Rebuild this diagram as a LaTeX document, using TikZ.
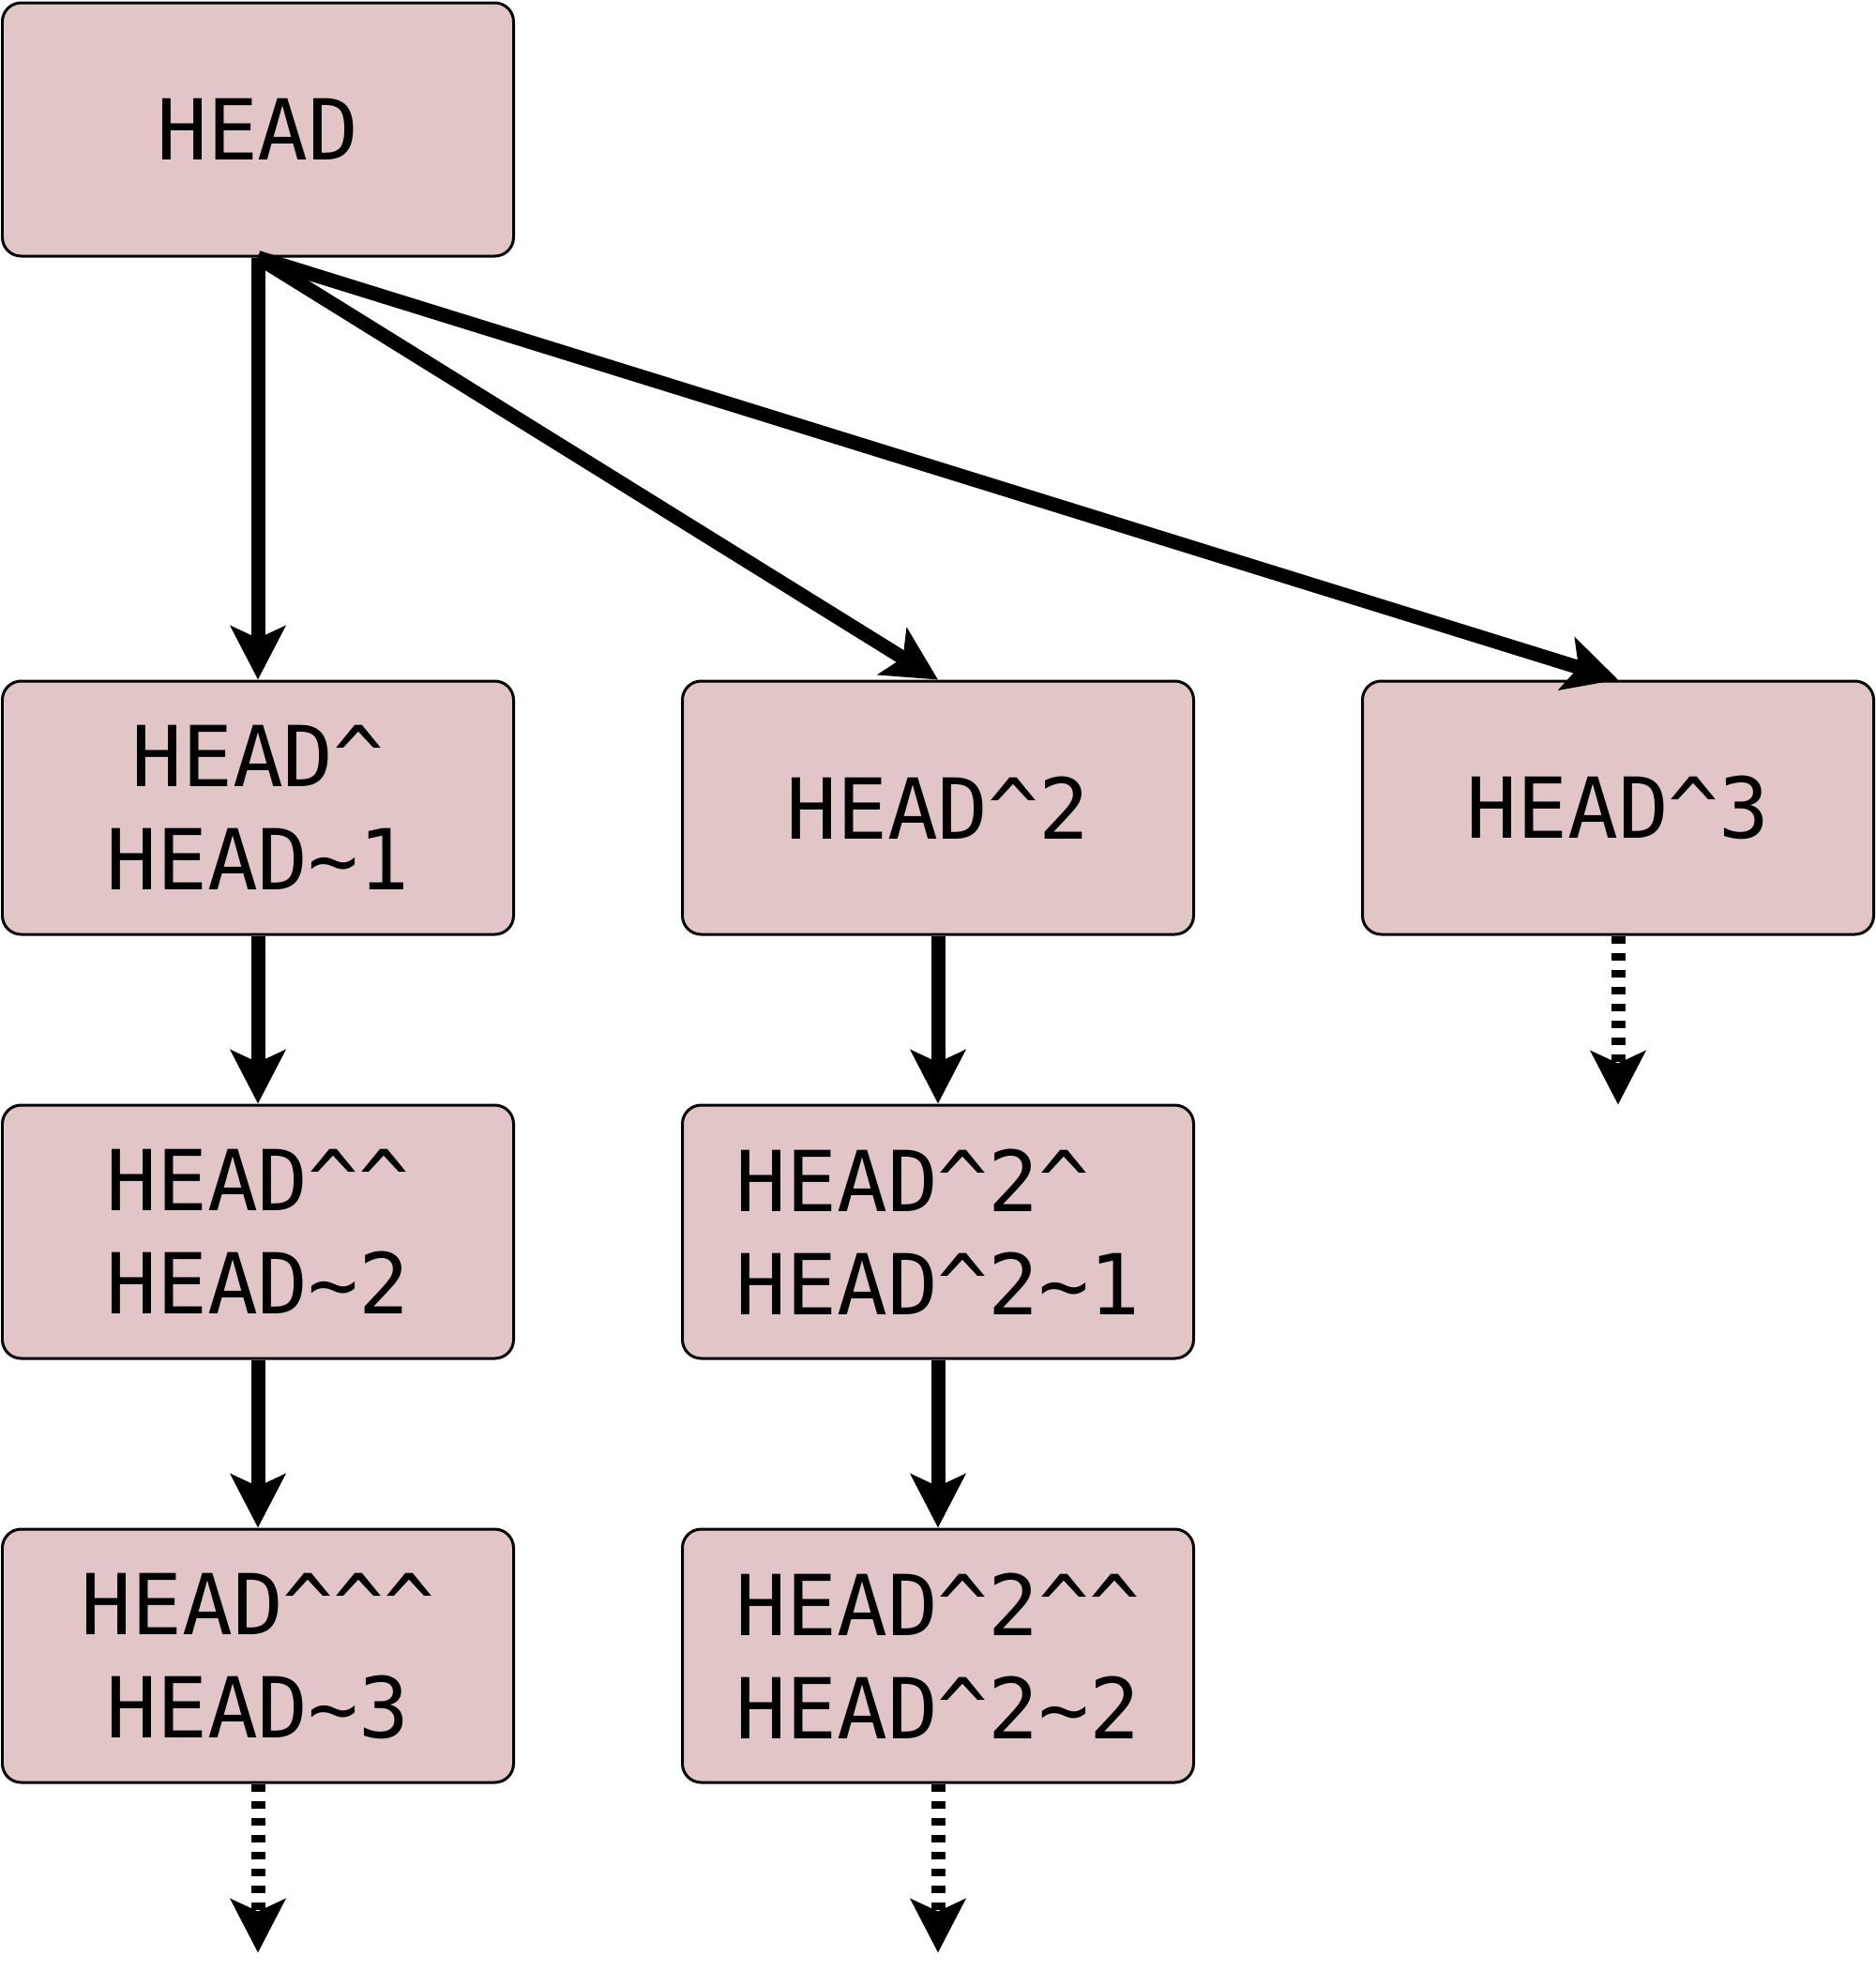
\documentclass[tikz,border=0pt]{standalone}
\usepackage{fontspec}
\setmonofont{DejaVu Sans Mono}
\usepackage{tikz}
\usetikzlibrary{arrows.meta,positioning}
\usepackage{xcolor}
\definecolor{commit}{HTML}{E2C6C7}
\definecolor{ink}{HTML}{000000}
\newcommand{\caret}{\textasciicircum}
\newcommand{\tilda}{\textasciitilde}
\tikzset{
  every node/.style={font=\ttfamily\fontsize{25.5}{31.3}\selectfont,text=ink},
  rev/.style={draw=ink,line width=0.03cm,rounded corners=0.2cm,fill=commit,align=center,minimum width=5.45cm,minimum height=2.70cm,inner sep=2pt},
  leftrev/.style={rev,align=left},
  parent/.style={-{Stealth[length=0.57cm,width=0.58cm,inset=0.13cm]},line width=0.15cm,draw=ink},
  older/.style={parent,dash pattern=on 0.08cm off 0.10cm},
}
\begin{document}
\begin{tikzpicture}[node distance=1.79cm and 1.77cm]
\useasboundingbox (0,0) rectangle (20,-21.01);

% Commits
\node[rev] (head) at (2.75,-1.38) {HEAD};
\node[rev,below=4.50cm of head] (p1) {HEAD\caret\\HEAD\tilda1};
\node[rev,right=of p1] (p2) {HEAD\caret2};
\node[rev,right=of p2] (p3) {HEAD\caret3};
\node[rev,below=of p1] (p1a) {HEAD\caret\caret\\HEAD\tilda2};
\node[rev,below=of p1a] (p1b) {HEAD\caret\caret\caret\\HEAD\tilda3};
\node[leftrev,below=of p2] (p2a) {HEAD\caret2\caret\\HEAD\caret2\tilda1};
\node[leftrev,below=of p2a] (p2b) {HEAD\caret2\caret\caret\\HEAD\caret2\tilda2};

% Loose ends
\foreach \c in {p1b,p2b,p3} {\coordinate[below=1.8cm of \c.south] (\c end);}

% Arrows
\foreach \c in {p1,p2,p3} {\draw[parent] (head.south) -- (\c.north);}
\draw[parent] (p1.south) -- (p1a.north);
\draw[parent] (p1a.south) -- (p1b.north);
\draw[parent] (p2.south) -- (p2a.north);
\draw[parent] (p2a.south) -- (p2b.north);
\foreach \c in {p1b,p2b,p3} {\draw[older] (\c.south) -- (\c end);}

\end{tikzpicture}
\end{document}
